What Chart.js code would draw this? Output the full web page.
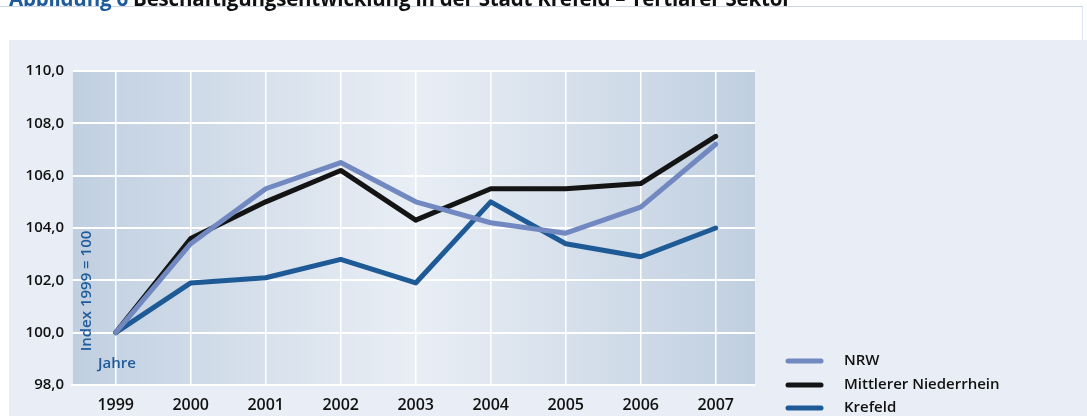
<!DOCTYPE html>
<html>
<head>
<meta charset="utf-8">
<script src="https://cdn.jsdelivr.net/npm/chart.js@4"></script>
<style>
  html, body { margin: 0; padding: 0; background: #fff; width: 1087px; height: 416px; overflow: hidden; position: relative; }
  #title { position: absolute; left: 9px; top: -12px; font-family: "Open Sans", sans-serif; font-weight: 700; font-size: 20.5px; line-height: 20px; color: #111; white-space: nowrap; z-index: 2; letter-spacing: -0.2px; }
  #title .num { color: #1f5a9a; }
  #rule { position: absolute; left: 0; top: 6px; width: 1083px; height: 1px; background: #c9d6ea; z-index: 1; }
  #vrule { position: absolute; left: 1082px; top: 6px; width: 1px; height: 34px; background: #dde6f2; }
  #panel { position: absolute; left: 9px; top: 40px; width: 1078px; height: 380px; background: #e9eef6; }
  #c { position: absolute; left: 0; top: 0; }
</style>
</head>
<body>
<div id="rule"></div>
<div id="vrule"></div>
<div id="title"><span class="num">Abbildung 6</span> Beschäftigungsentwicklung in der Stadt Krefeld – Tertiärer Sektor</div>
<div id="panel"></div>
<canvas id="c" width="1087" height="416"></canvas>
<script>
const years = ["1999", "2000", "2001", "2002", "2003", "2004", "2005", "2006", "2007"];
const nrw = [100.0, 103.4, 105.5, 106.5, 105.0, 104.2, 103.8, 104.8, 107.2];
const mittlererNiederrhein = [100.0, 103.6, 105.0, 106.2, 104.3, 105.5, 105.5, 105.7, 107.5];
const krefeld = [100.0, 101.9, 102.1, 102.8, 101.9, 105.0, 103.4, 102.9, 104.0];
const yTicks = [98, 100, 102, 104, 106, 108, 110];
const seriesNames = ["NRW", "Mittlerer Niederrhein", "Krefeld"];
const yAxisTitle = "Index 1999 = 100";
const xAxisTitle = "Jahre";

const FONT = '"Open Sans", sans-serif';
const toPoints = arr => arr.map((v, i) => ({ x: i, y: v }));

const bgPlugin = {
  id: 'plotBg',
  beforeDraw(chart) {
    const { ctx, chartArea: a } = chart;
    const g = ctx.createLinearGradient(a.left, 0, a.right, 0);
    g.addColorStop(0, '#c0cfe0');
    g.addColorStop(0.5, '#e9eef5');
    g.addColorStop(1, '#c0cfe0');
    ctx.save();
    ctx.fillStyle = g;
    ctx.fillRect(a.left, a.top, a.right - a.left, a.bottom - a.top);
    ctx.restore();
  }
};

const labelsPlugin = {
  id: 'axisTexts',
  beforeDatasetsDraw(chart) {
    const { ctx, chartArea: a } = chart;
    ctx.save();
    ctx.fillStyle = '#1f5a9a';
    ctx.font = '600 15px ' + FONT;
    ctx.textAlign = 'center';
    ctx.textBaseline = 'middle';
    ctx.translate(a.left + 15, 291);
    ctx.rotate(-Math.PI / 2);
    ctx.fillText(yAxisTitle, 0, 0);
    ctx.restore();
    ctx.save();
    ctx.fillStyle = '#1f5a9a';
    ctx.font = '600 15px ' + FONT;
    ctx.textAlign = 'left';
    ctx.textBaseline = 'middle';
    ctx.fillText(xAxisTitle, a.left + 26, 364);
    ctx.restore();
  },
  afterDraw(chart) {
    const { ctx } = chart;
    const rows = [361, 385, 408];
    ctx.save();
    chart.data.datasets.forEach((ds, i) => {
      ctx.strokeStyle = ds.borderColor;
      ctx.lineWidth = 5;
      ctx.lineCap = 'round';
      ctx.beginPath();
      ctx.moveTo(788, rows[i]);
      ctx.lineTo(821, rows[i]);
      ctx.stroke();
      ctx.fillStyle = '#111';
      ctx.font = '600 15px ' + FONT;
      ctx.textAlign = 'left';
      ctx.textBaseline = 'middle';
      ctx.fillText(ds.label, 844, rows[i]);
    });
    ctx.restore();
  }
};

new Chart(document.getElementById('c'), {
  type: 'line',
  data: {
    datasets: [
      { label: seriesNames[0], data: toPoints(nrw), borderColor: '#7189c0', borderWidth: 5 },
      { label: seriesNames[1], data: toPoints(mittlererNiederrhein), borderColor: '#141414', borderWidth: 5 },
      { label: seriesNames[2], data: toPoints(krefeld), borderColor: '#1d5a96', borderWidth: 5 }
    ]
  },
  options: {
    responsive: false,
    animation: false,
    devicePixelRatio: 1,
    layout: { padding: { left: 0, right: 332, top: 71, bottom: 0 } },
    elements: { point: { radius: 0 }, line: { tension: 0, borderJoinStyle: 'round', borderCapStyle: 'round' } },
    plugins: { legend: { display: false }, tooltip: { enabled: false } },
    scales: {
      x: {
        type: 'linear',
        min: -0.583,
        max: 8.524,
        afterFit(s) { s.height = 31; },
        grid: { color: '#ffffff', lineWidth: 1.5, drawTicks: false },
        border: { display: true, color: '#ffffff', width: 2 },
        ticks: {
          stepSize: 1,
          includeBounds: false,
          autoSkip: false,
          maxRotation: 0,
          padding: 11,
          color: '#111',
          font: { family: FONT, size: 16, weight: '600' },
          callback: v => (Number.isInteger(v) && years[v] !== undefined) ? years[v] : ''
        }
      },
      y: {
        min: yTicks[0],
        max: yTicks[yTicks.length - 1],
        afterFit(s) { s.width = 72; },
        afterBuildTicks(s) { s.ticks = yTicks.map(v => ({ value: v })); },
        grid: { color: '#ffffff', lineWidth: 2, drawTicks: false },
        border: { display: true, color: 'rgba(255,255,255,0.6)', width: 1 },
        ticks: {
          padding: 8,
          color: '#111',
          font: { family: FONT, size: 15, weight: '600' },
          callback: v => v.toFixed(1).replace('.', ',')
        }
      }
    }
  },
  plugins: [bgPlugin, labelsPlugin]
});
</script>
</body>
</html>
